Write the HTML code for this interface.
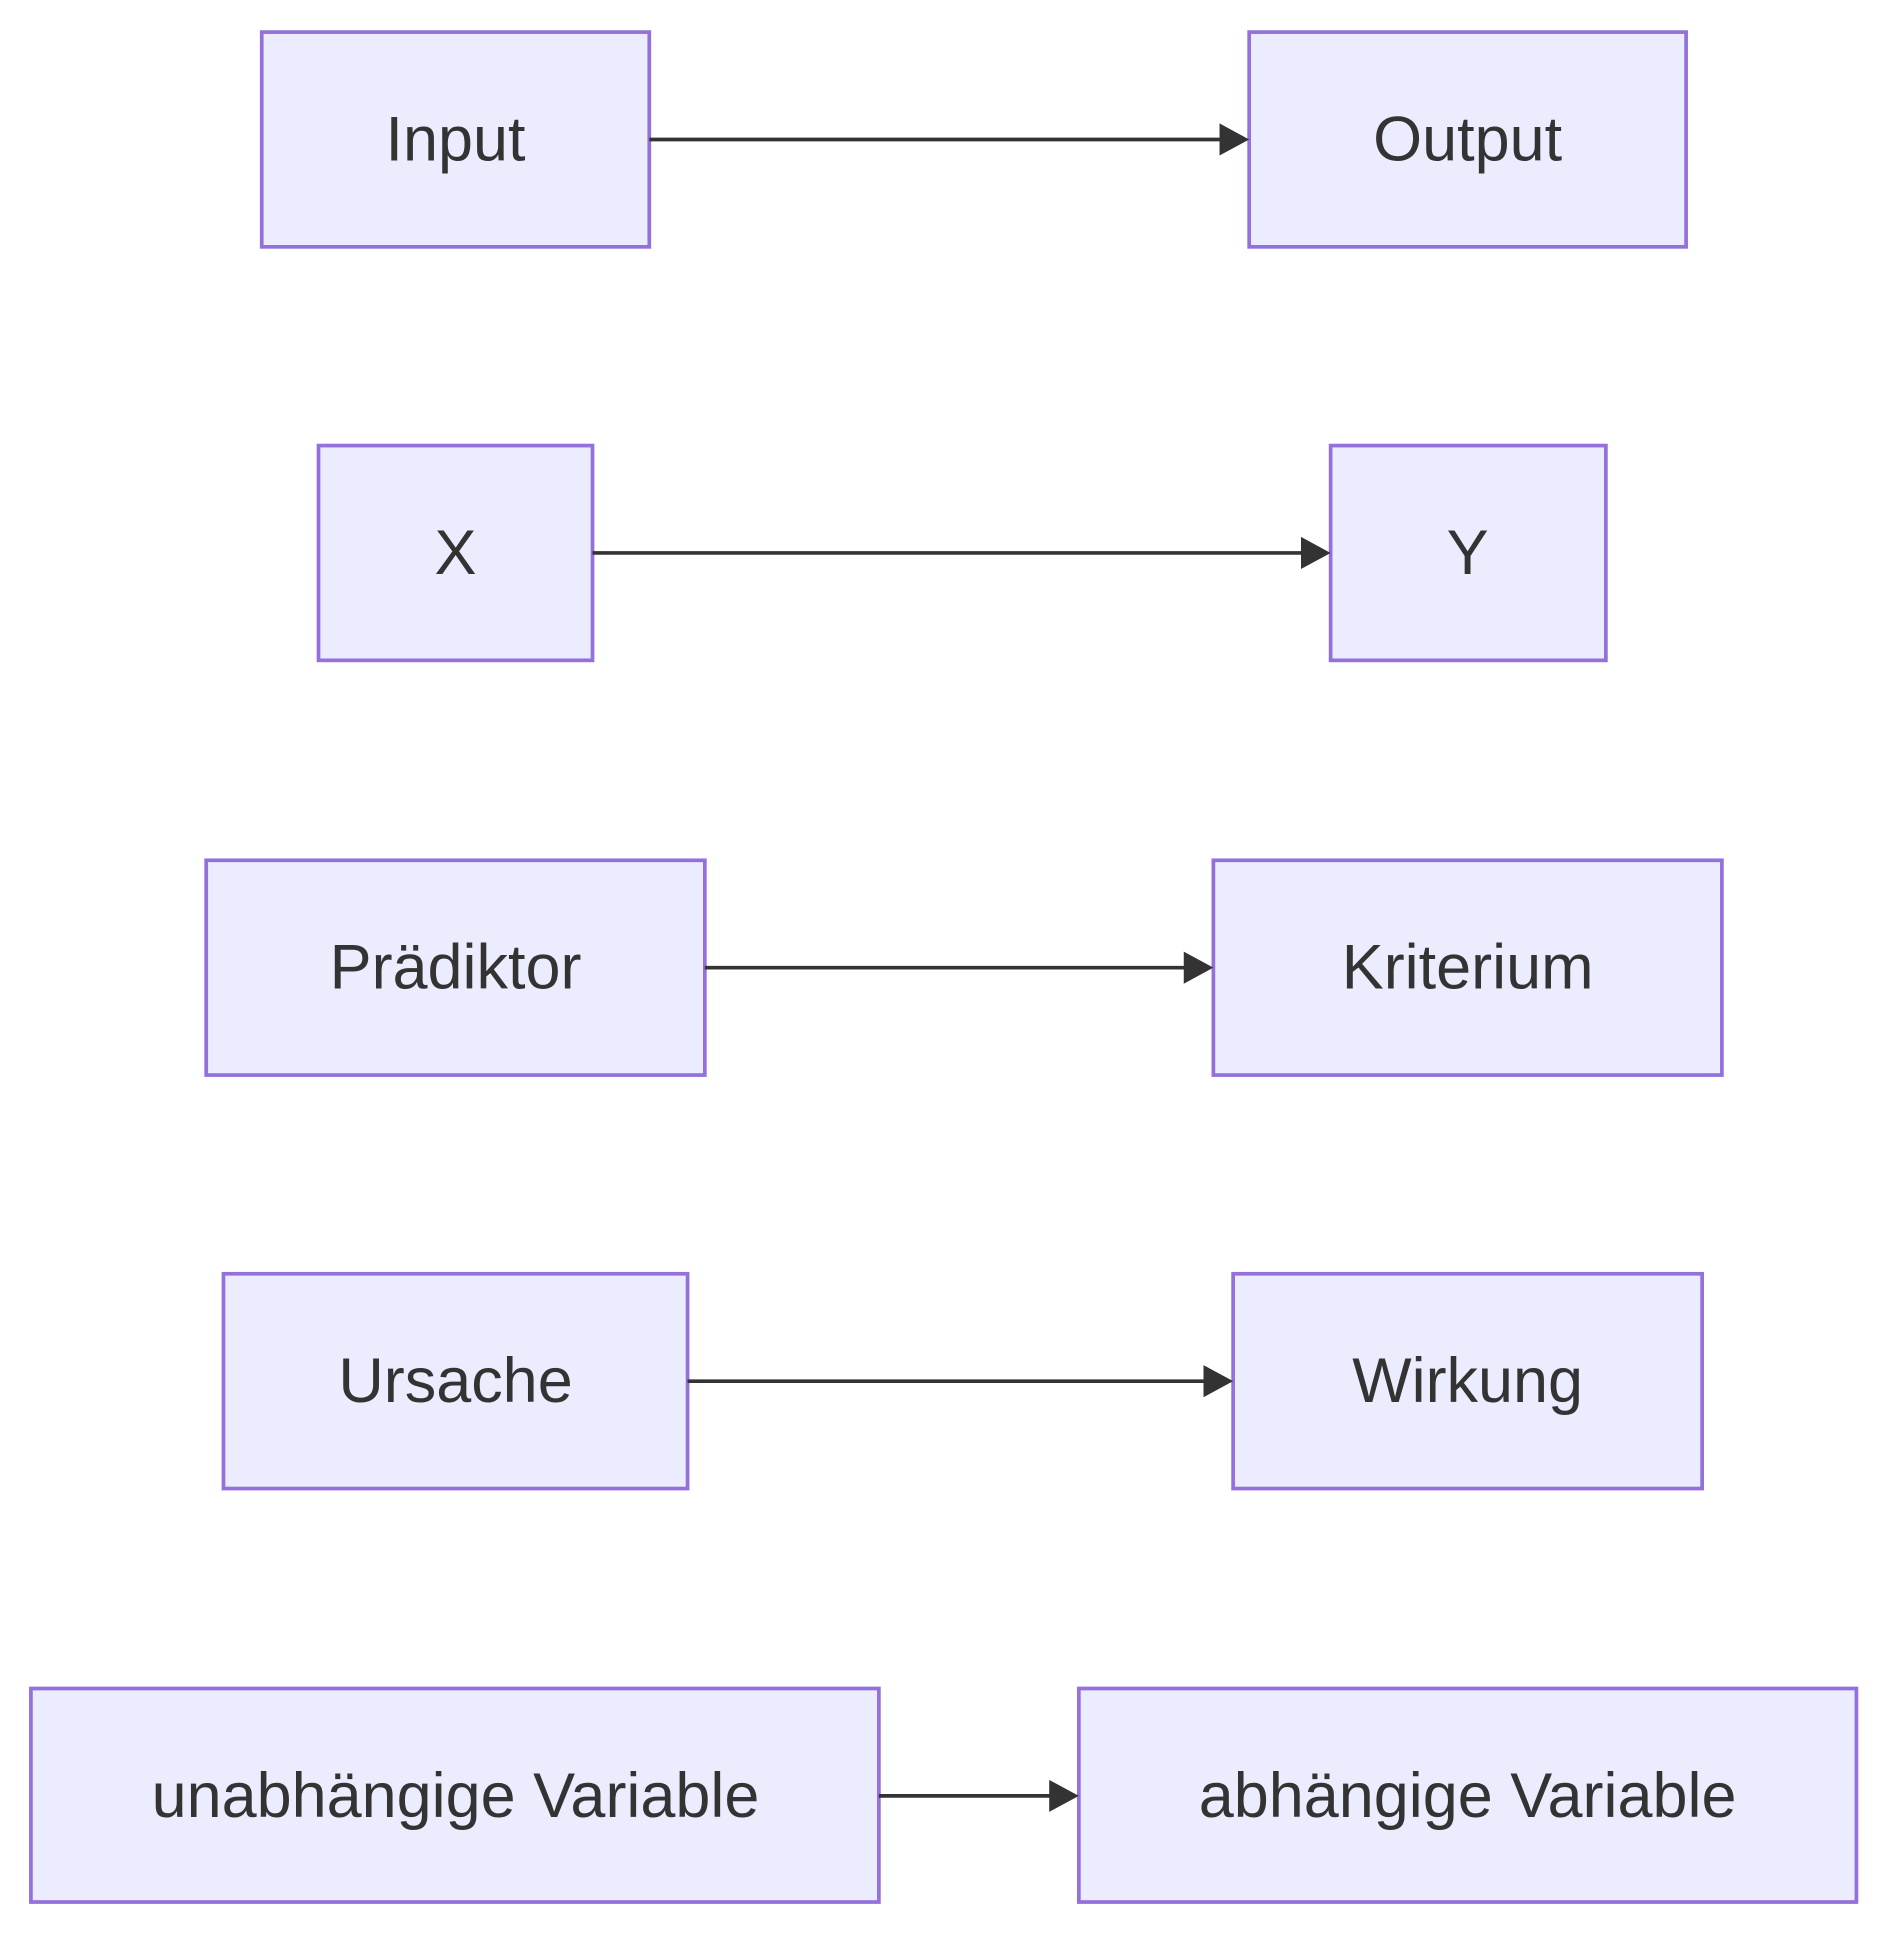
<!DOCTYPE html>
<html><head><meta charset="utf-8"><style>
html,body{margin:0;padding:0;background:#fff;}
svg{display:block;}
text{font-family:"Liberation Sans","DejaVu Sans",sans-serif;font-size:51px;fill:#333;text-anchor:middle;}
rect{fill:#ECECFF;stroke:#9370DB;stroke-width:3;}
line{stroke:#333;stroke-width:3;}
polygon{fill:#333;}
</style></head><body>
<svg width="1896" height="1944" viewBox="0 0 1536 1575" xmlns="http://www.w3.org/2000/svg">
<rect x="212" y="26" width="314" height="174"/>
<rect x="1012" y="26" width="354" height="174"/>
<line x1="526" y1="113" x2="990" y2="113"/><polygon points="988,100 1012,113 988,126"/>
<text x="369" y="130">Input</text><text x="1189" y="130">Output</text>

<rect x="258" y="361" width="222" height="174"/>
<rect x="1078" y="361" width="223" height="174"/>
<line x1="480" y1="448" x2="1056" y2="448"/><polygon points="1054,435 1078,448 1054,461"/>
<text x="369" y="465">X</text><text x="1189" y="465">Y</text>

<rect x="167" y="697" width="404" height="174"/>
<rect x="983" y="697" width="412" height="174"/>
<line x1="571" y1="784" x2="961" y2="784"/><polygon points="959,771 983,784 959,797"/>
<text x="369" y="801">Prädiktor</text><text x="1189" y="801">Kriterium</text>

<rect x="181" y="1032" width="376" height="174"/>
<rect x="999" y="1032" width="380" height="174"/>
<line x1="557" y1="1119" x2="977" y2="1119"/><polygon points="975,1106 999,1119 975,1132"/>
<text x="369" y="1136">Ursache</text><text x="1189" y="1136">Wirkung</text>

<rect x="25" y="1368" width="687" height="173"/>
<rect x="874" y="1368" width="630" height="173"/>
<line x1="712" y1="1455" x2="852" y2="1455"/><polygon points="850,1442 874,1455 850,1468"/>
<text x="369" y="1472">unabhängige Variable</text><text x="1189" y="1472">abhängige Variable</text>
</svg>
</body></html>
